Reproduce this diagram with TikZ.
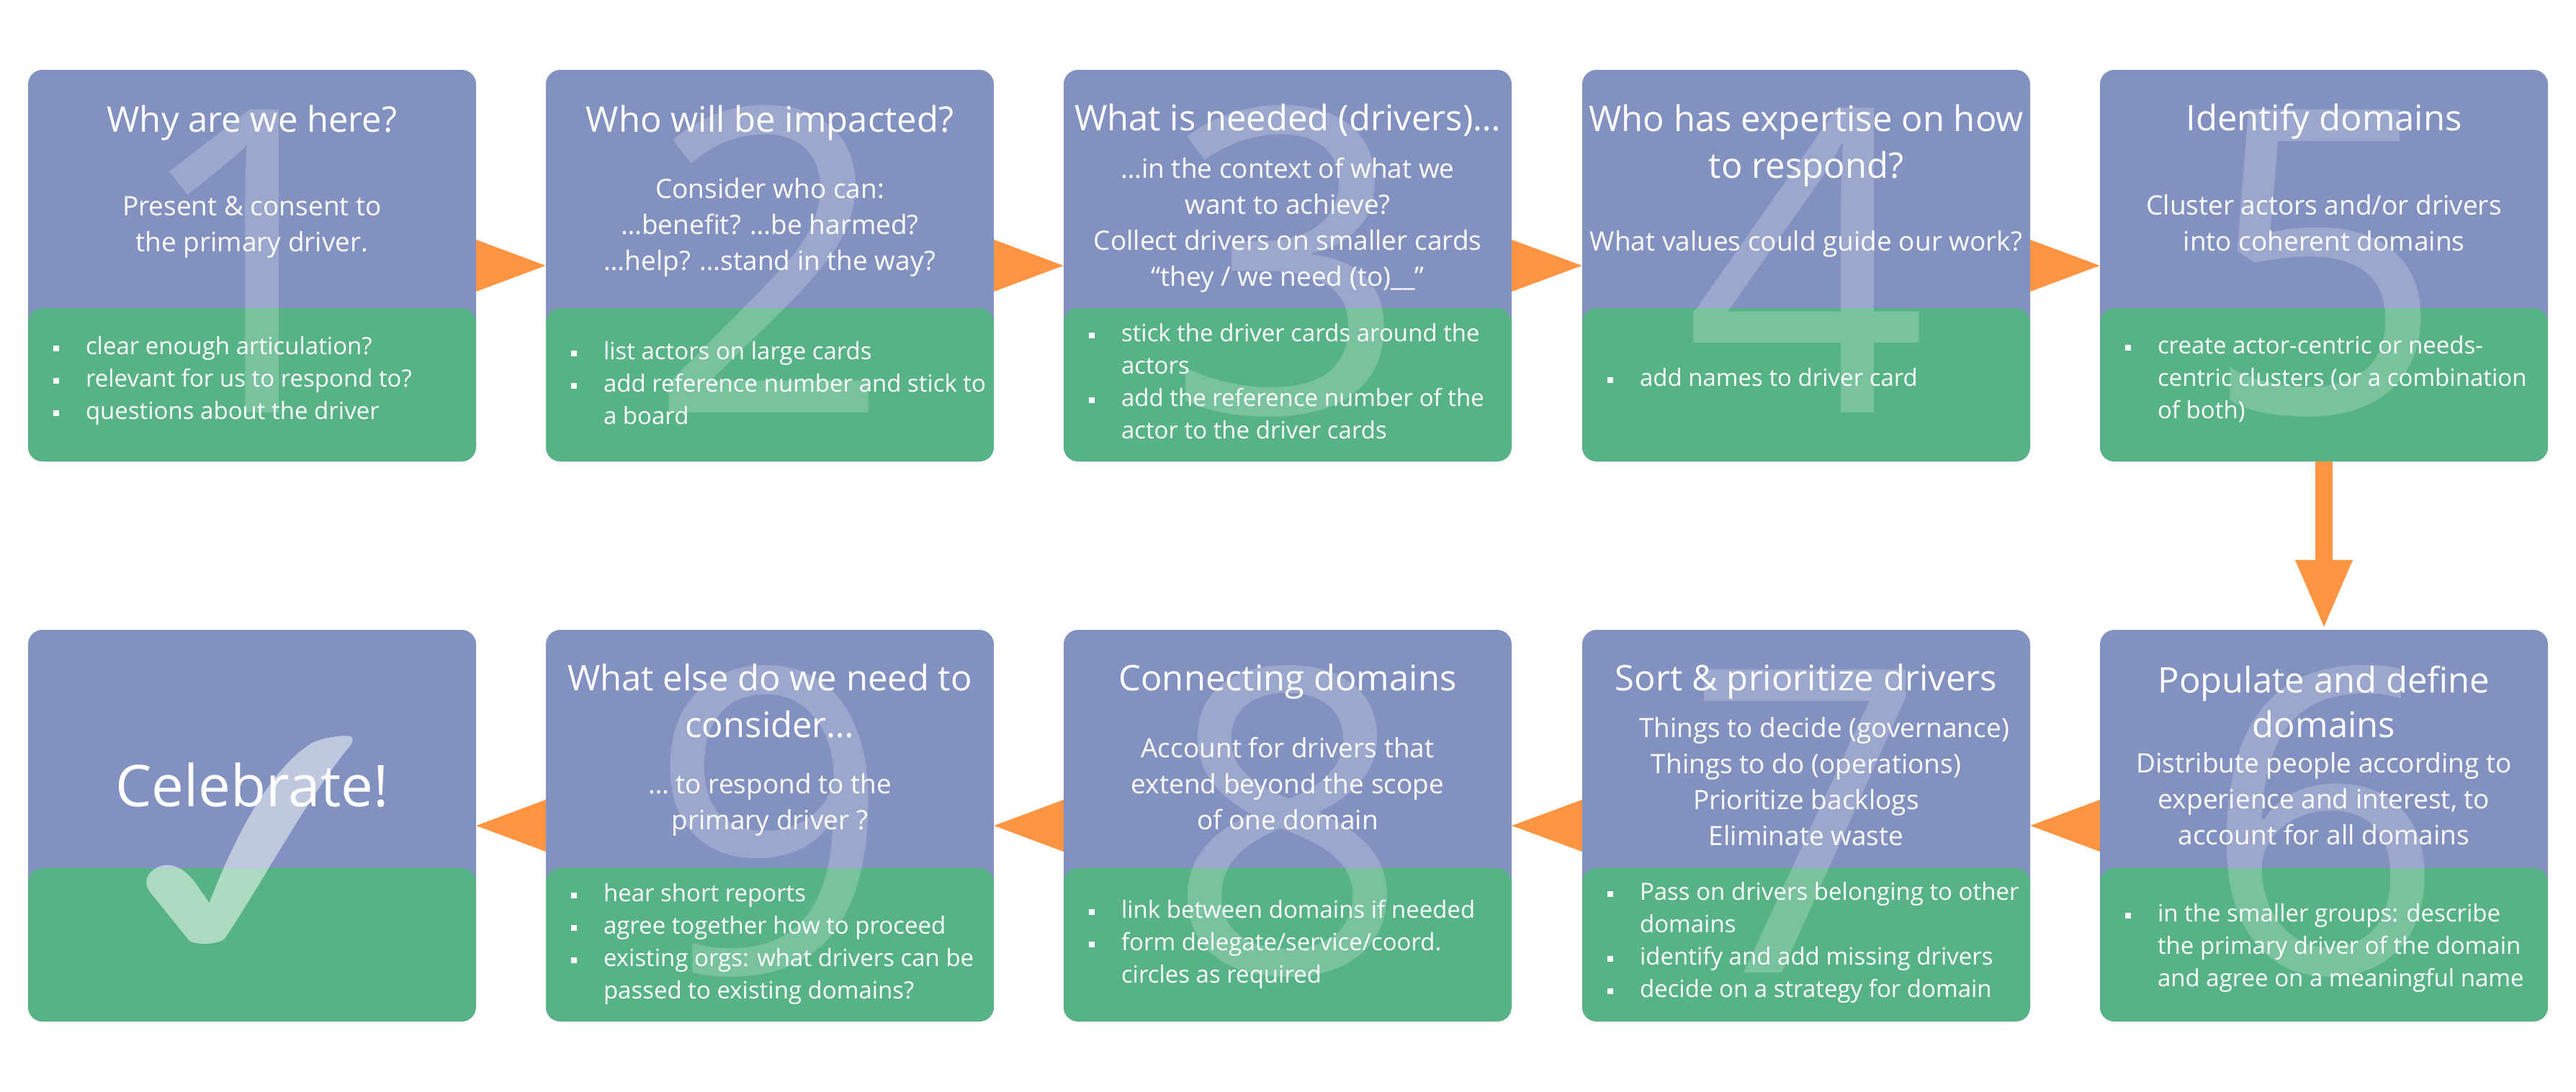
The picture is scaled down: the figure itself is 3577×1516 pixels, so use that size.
\documentclass[tikz,border=0pt]{standalone}
\usepackage{fontspec}
\setmainfont{Open Sans}
\usetikzlibrary{arrows.meta}
\definecolor{cardblue}{RGB}{130,145,192}
\definecolor{cardgreen}{RGB}{87,179,134}
\definecolor{floworange}{RGB}{255,148,66}
\newcommand{\itm}{\leavevmode\llap{\rule[5pt]{8pt}{8pt}\hspace{37pt}}}
\tikzset{
	card/.style={rectangle, rounded corners=20pt, minimum width=622pt, minimum height=544pt, inner sep=0pt, fill=cardblue,
		path picture={\fill[cardgreen] ([yshift=213pt]path picture bounding box.south west) rectangle (path picture bounding box.south east);}},
	digit/.style={anchor=base, inner sep=0pt, text=white, text opacity=0.2, font=\fontsize{590}{590}\selectfont},
	title/.style={anchor=base, inner sep=0pt, text=white, align=center, font=\fontsize{49}{65}\selectfont},
	body/.style={anchor=base, inner sep=0pt, text=white, align=center, font=\fontsize{37}{50}\selectfont},
	items/.style={anchor=base west, inner sep=0pt, text=white, align=left, font=\fontsize{33}{45}\selectfont},
	flow/.style={fill=floworange},
}
\begin{document}
\begin{tikzpicture}[x=1pt, y=-1pt]
	\useasboundingbox (0,0) rectangle (3577,1516);

	\node[card] (s1)  at (350,369)   {};
	\node[card] (s2)  at (1069,369)  {};
	\node[card] (s3)  at (1788,369)  {};
	\node[card] (s4)  at (2508,369)  {};
	\node[card] (s5)  at (3227,369)  {};
	\node[card] (s6)  at (3227,1147) {};
	\node[card] (s7)  at (2508,1147) {};
	\node[card] (s8)  at (1788,1147) {};
	\node[card] (s9)  at (1069,1147) {};
	\node[card] (s10) at (350,1147)  {};

	\node[digit] (d1) at ([yshift=-477pt]s1.north) {1};
	\node[digit] (d2) at ([yshift=-477pt]s2.north) {2};
	\node[digit] (d3) at ([yshift=-477pt]s3.north) {3};
	\node[digit] (d4) at ([yshift=-477pt]s4.north) {4};
	\node[digit] (d5) at ([yshift=-477pt]s5.north) {5};
	\node[digit] (d6) at ([yshift=-477pt]s6.north) {6};
	\node[digit] (d7) at ([yshift=-477pt]s7.north) {7};
	\node[digit] (d8) at ([yshift=-477pt]s8.north) {8};
	\node[digit] (d9) at ([yshift=-477pt]s9.north) {9};

	\begin{scope}[shift={(s10.north west)}]
		\fill[white, fill opacity=0.5] (164.6,351.7) .. controls (163,338) and (180,326) .. (196,327)
			.. controls (212,328) and (228,343) .. (238,360) -- (251.8,379.4)
			.. controls (290,280) and (340,190) .. (395,157)
			.. controls (410,150) and (435,146) .. (448,148)
			.. controls (453,151) and (451,157) .. (446,163)
			.. controls (390,230) and (320,360) .. (274,428)
			.. controls (268,437) and (235,439) .. (224,432)
			-- (170,365) .. controls (166,360) and (164.6,356) .. (164.6,351.7) -- cycle;
	\end{scope}

	\node[title] (t1) at ([yshift=-87pt]s1.north) {Why are we here?};
	\node[body]  (b1) at ([yshift=-253pt]s1.north) {Present \& consent to\\the primary driver.};
	\node[items] (i1) at ([xshift=80pt, yshift=-486pt]s1.north west) {\itm clear enough articulation?\\\itm relevant for us to respond to?\\\itm questions about the driver};

	\node[title] (t2) at ([yshift=-87pt]s2.north) {Who will be impacted?};
	\node[body]  (b2) at ([yshift=-279pt]s2.north) {Consider who can:\\…benefit? …be harmed?\\…help? …stand in the way?};
	\node[items] (i2) at ([xshift=80pt, yshift=-493pt]s2.north west) {\itm list actors on large cards\\\itm add reference number and stick to\\a board};

	\node[title] (t3) at ([yshift=-85pt]s3.north) {What is needed (drivers)…};
	\node[body]  (b3) at ([yshift=-301pt]s3.north) {…in the context of what we\\want to achieve?\\Collect drivers on smaller cards\\“they / we need (to)\_\_”};
	\node[items] (i3) at ([xshift=80pt, yshift=-513pt]s3.north west) {\itm stick the driver cards around the\\actors\\\itm add the reference number of the\\actor to the driver cards};

	\node[title] (t4) at ([yshift=-151pt]s4.north) {Who has expertise on how\\to respond?};
	\node[body]  (b4) at ([yshift=-252pt]s4.north) {What values could guide our work?};
	\node[items] (i4) at ([xshift=80pt, yshift=-440pt]s4.north west) {\itm add names to driver card};

	\node[title] (t5) at ([yshift=-85pt]s5.north) {Identify domains};
	\node[body]  (b5) at ([yshift=-252pt]s5.north) {Cluster actors and/or drivers\\into coherent domains};
	\node[items] (i5) at ([xshift=80pt, yshift=-485pt]s5.north west) {\itm create actor-centric or needs-\\centric clusters (or a combination\\of both)};

	\node[title, font=\fontsize{49}{62}\selectfont] (t6) at ([yshift=-150pt]s6.north) {Populate and define\\domains};
	\node[body]  (b6) at ([yshift=-299pt]s6.north) {Distribute people according to\\experience and interest, to\\account for all domains};
	\node[items] (i6) at ([xshift=80pt, yshift=-496pt]s6.north west) {\itm in the smaller groups: describe\\the primary driver of the domain\\and agree on a meaningful name};

	\node[title] (t7) at ([yshift=-85pt]s7.north) {Sort \& prioritize drivers};
	\node[body]  (b7) at ([yshift=-300pt]s7.north) {\hspace*{50pt}Things to decide (governance)\\Things to do (operations)\\Prioritize backlogs\\Eliminate waste};
	\node[items] (i7) at ([xshift=80pt, yshift=-511pt]s7.north west) {\itm Pass on drivers belonging to other\\domains\\\itm identify and add missing drivers\\\itm decide on a strategy for domain};

	\node[title] (t8) at ([yshift=-85pt]s8.north) {Connecting domains};
	\node[body]  (b8) at ([yshift=-278pt]s8.north) {Account for drivers that\\extend beyond the scope\\of one domain};
	\node[items] (i8) at ([xshift=80pt, yshift=-491pt]s8.north west) {\itm link between domains if needed\\\itm form delegate/service/coord.\\circles as required};

	\node[title] (t9) at ([yshift=-150pt]s9.north) {What else do we need to\\consider…};
	\node[body]  (b9) at ([yshift=-278pt]s9.north) {… to respond to the\\primary driver ?};
	\node[items] (i9) at ([xshift=80pt, yshift=-513pt]s9.north west) {\itm hear short reports\\\itm agree together how to proceed\\\itm existing orgs: what drivers can be\\passed to existing domains?};

	\node[anchor=base, inner sep=0pt, text=white, font=\fontsize{80}{80}\selectfont] (t10) at ([yshift=-246pt]s10.north) {Celebrate!};

	\fill[flow] ([yshift=36pt]s1.east) -- (s2.west) -- ([yshift=-36pt]s1.east) -- cycle;
	\fill[flow] ([yshift=36pt]s2.east) -- (s3.west) -- ([yshift=-36pt]s2.east) -- cycle;
	\fill[flow] ([yshift=36pt]s3.east) -- (s4.west) -- ([yshift=-36pt]s3.east) -- cycle;
	\fill[flow] ([yshift=36pt]s4.east) -- (s5.west) -- ([yshift=-36pt]s4.east) -- cycle;
	\draw[floworange, line width=24pt, -{Triangle[width=72pt, length=97pt]}] (s5.south) -- (s6.north);
	\fill[flow] ([yshift=36pt]s6.west) -- (s7.east) -- ([yshift=-36pt]s6.west) -- cycle;
	\fill[flow] ([yshift=36pt]s7.west) -- (s8.east) -- ([yshift=-36pt]s7.west) -- cycle;
	\fill[flow] ([yshift=36pt]s8.west) -- (s9.east) -- ([yshift=-36pt]s8.west) -- cycle;
	\fill[flow] ([yshift=36pt]s9.west) -- (s10.east) -- ([yshift=-36pt]s9.west) -- cycle;
\end{tikzpicture}
\end{document}
